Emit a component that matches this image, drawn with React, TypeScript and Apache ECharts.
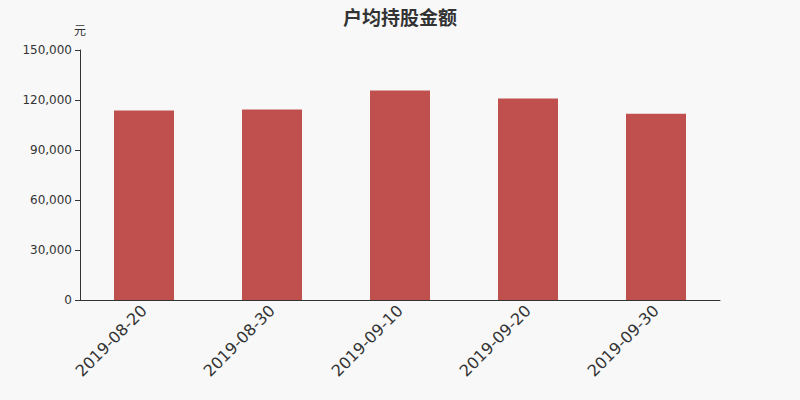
import React, { useEffect, useRef } from "react";
import * as echarts from "echarts";

const categories = ["2019-08-20", "2019-08-30", "2019-09-10", "2019-09-20", "2019-09-30"];
const values = [113700, 114300, 125700, 120900, 111800];
const yTicks = { min: 0, max: 150000, interval: 30000 };

const FONT = "'DejaVu Sans', 'Noto Sans CJK SC', sans-serif";

export default function App() {
  const ref = useRef<HTMLDivElement>(null);
  useEffect(() => {
    const chart = echarts.init(ref.current!, null, { renderer: "svg" });
    chart.setOption({
      animation: false,
      backgroundColor: "#f8f8f8",
      textStyle: { fontFamily: FONT },
      title: {
        text: "户均持股金额",
        left: "center",
        top: 2,
        textStyle: { fontSize: 19, fontWeight: "bold", color: "#333", fontFamily: "'Noto Sans CJK SC', sans-serif" },
      },
      grid: { left: 80, right: 80, top: 50, bottom: 100 },
      xAxis: {
        type: "category",
        data: categories,
        axisLine: { lineStyle: { color: "#333" } },
        axisTick: { lineStyle: { color: "#333" } },
        axisLabel: { rotate: 45, fontSize: 16, color: "#333", margin: 8, fontFamily: FONT },
      },
      yAxis: {
        type: "value",
        name: "元",
        nameGap: 15,
        nameTextStyle: { color: "#333", fontSize: 12, fontFamily: "'Noto Sans CJK SC', sans-serif" },
        min: yTicks.min,
        max: yTicks.max,
        interval: yTicks.interval,
        axisLine: { show: true, lineStyle: { color: "#333" } },
        axisTick: { show: true, lineStyle: { color: "#333" } },
        splitLine: { show: false },
        axisLabel: {
          color: "#333",
          fontSize: 12,
          fontFamily: FONT,
          formatter: (v: number) => v.toLocaleString("en-US"),
        },
      },
      series: [
        {
          type: "bar",
          data: values,
          barWidth: 60,
          itemStyle: { color: "#c0504d" },
        },
      ],
    });
    return () => chart.dispose();
  }, []);
  return <div ref={ref} style={{ width: 800, height: 400, position: "absolute", left: 0, top: 0 }} />;
}
